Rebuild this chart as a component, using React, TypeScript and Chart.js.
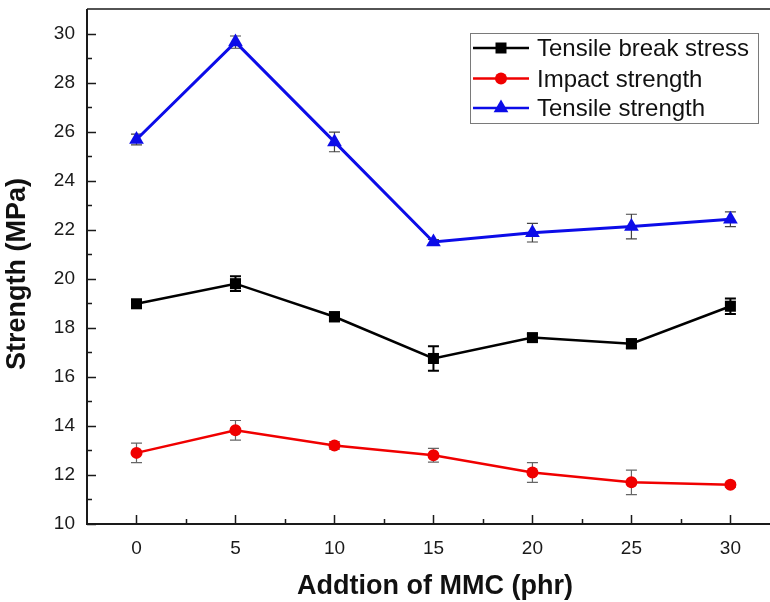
import React, { useEffect, useRef } from 'react';
import { Chart, registerables } from 'chart.js';

Chart.register(...registerables);

// ---- data ----
const additions = [0, 5, 10, 15, 20, 25, 30];

const tensileBreakStress = [18.98, 19.8, 18.45, 16.75, 17.6, 17.35, 18.88];
const tensileBreakStressErr = [0.15, 0.3, 0.18, 0.5, 0.15, 0.18, 0.32];

const impactStrength = [12.9, 13.82, 13.2, 12.8, 12.1, 11.7, 11.6];
const impactStrengthErr = [0.4, 0.4, 0.15, 0.28, 0.4, 0.5, 0.1];

const tensileStrength = [25.68, 29.65, 25.58, 21.5, 21.88, 22.13, 22.43];
const tensileStrengthErr = [0.22, 0.25, 0.4, 0.1, 0.38, 0.5, 0.3];

const seriesNames = ['Tensile break stress', 'Impact strength', 'Tensile strength'];

const xMajorTicks = [0, 5, 10, 15, 20, 25, 30];
const xMinorTicks = [2.5, 7.5, 12.5, 17.5, 22.5, 27.5];
const yMajorTicks = [10, 12, 14, 16, 18, 20, 22, 24, 26, 28, 30];
const yMinorTicks = [11, 13, 15, 17, 19, 21, 23, 25, 27, 29];

const xTitle = 'Addtion of MMC (phr)';
const yTitle = 'Strength (MPa)';

const FONT = '"Liberation Sans", Arial, Helvetica, sans-serif';
const BLACK = '#000000';
const RED = '#f00000';
const BLUE = '#0c0ce8';

const errors = [tensileBreakStressErr, impactStrengthErr, tensileStrengthErr];
const errColors = ['#000000', '#666666', '#444444'];
const errWidths = [2, 1.2, 1.2];

const toPoints = (ys: number[]) => additions.map((x, i) => ({ x, y: ys[i] }));

function drawMarker(ctx: CanvasRenderingContext2D, style: string, x: number, y: number, color: string) {
  ctx.fillStyle = color;
  ctx.beginPath();
  if (style === 'rect') {
    ctx.rect(x - 5.5, y - 5.5, 11, 11);
  } else if (style === 'circle') {
    ctx.arc(x, y, 6, 0, Math.PI * 2);
  } else {
    const r = 8.5;
    ctx.moveTo(x, y - r);
    ctx.lineTo(x + r * 0.866, y + r * 0.5);
    ctx.lineTo(x - r * 0.866, y + r * 0.5);
    ctx.closePath();
  }
  ctx.fill();
}

const decorPlugin = {
  id: 'decor',
  beforeDatasetsDraw(chart: any) {
    const { ctx, scales } = chart;
    const x = scales.x;
    const y = scales.y;
    ctx.save();
    chart.data.datasets.forEach((ds: any, di: number) => {
      const err = errors[di];
      ctx.strokeStyle = errColors[di];
      ctx.lineWidth = errWidths[di];
      ds.data.forEach((p: any, i: number) => {
        const px = x.getPixelForValue(p.x);
        const top = y.getPixelForValue(p.y + err[i]);
        const bot = y.getPixelForValue(p.y - err[i]);
        ctx.beginPath();
        ctx.moveTo(px, top);
        ctx.lineTo(px, bot);
        ctx.moveTo(px - 5.5, top);
        ctx.lineTo(px + 5.5, top);
        ctx.moveTo(px - 5.5, bot);
        ctx.lineTo(px + 5.5, bot);
        ctx.stroke();
      });
    });
    ctx.restore();
  },
  afterDraw(chart: any) {
    const { ctx, chartArea: a, scales } = chart;
    const x = scales.x;
    const y = scales.y;
    ctx.save();
    // frame (top line; right edge falls outside the picture)
    ctx.strokeStyle = '#1a1a1a';
    ctx.lineWidth = 1.5;
    ctx.beginPath();
    ctx.moveTo(a.left, a.top);
    ctx.lineTo(a.right + 2, a.top);
    ctx.stroke();
    ctx.lineWidth = 2;
    ctx.beginPath();
    ctx.moveTo(a.left, a.top);
    ctx.lineTo(a.left, a.bottom);
    ctx.lineTo(a.right + 2, a.bottom);
    ctx.stroke();
    // ticks (inward)
    ctx.lineWidth = 1.5;
    ctx.beginPath();
    xMajorTicks.forEach((v) => {
      const px = Math.round(x.getPixelForValue(v)) + 0.5;
      ctx.moveTo(px, a.bottom);
      ctx.lineTo(px, a.bottom - 9);
    });
    xMinorTicks.forEach((v) => {
      const px = Math.round(x.getPixelForValue(v)) + 0.5;
      ctx.moveTo(px, a.bottom);
      ctx.lineTo(px, a.bottom - 5);
    });
    yMajorTicks.forEach((v) => {
      const py = Math.round(y.getPixelForValue(v)) + 0.5;
      ctx.moveTo(a.left, py);
      ctx.lineTo(a.left + 9, py);
    });
    yMinorTicks.forEach((v) => {
      const py = Math.round(y.getPixelForValue(v)) + 0.5;
      ctx.moveTo(a.left, py);
      ctx.lineTo(a.left + 5, py);
    });
    ctx.stroke();

    // axis titles
    ctx.fillStyle = '#111';
    ctx.font = `bold 27px ${FONT}`;
    ctx.textAlign = 'center';
    ctx.textBaseline = 'alphabetic';
    ctx.fillText(xTitle, 435, 594);
    ctx.save();
    ctx.translate(25, 274);
    ctx.rotate(-Math.PI / 2);
    ctx.fillText(yTitle, 0, 0);
    ctx.restore();

    // legend
    const bx = 470.5, by = 33.5, bw = 288, bh = 90;
    ctx.fillStyle = '#ffffff';
    ctx.fillRect(bx, by, bw, bh);
    ctx.strokeStyle = '#7a7a7a';
    ctx.lineWidth = 1;
    ctx.strokeRect(bx, by, bw, bh);
    const rows = [48, 78.5, 108];
    ctx.font = `24px ${FONT}`;
    ctx.textAlign = 'left';
    chart.data.datasets.forEach((ds: any, di: number) => {
      const cy = rows[di];
      ctx.strokeStyle = ds.borderColor;
      ctx.lineWidth = 2.5;
      ctx.beginPath();
      ctx.moveTo(473, cy);
      ctx.lineTo(529, cy);
      ctx.stroke();
      drawMarker(ctx, ds.pointStyle, 501, cy, ds.borderColor);
      ctx.fillStyle = '#111';
      ctx.fillText(seriesNames[di], 537, cy + 8);
    });
    ctx.restore();
  },
};

export default function App() {
  const ref = useRef<HTMLCanvasElement | null>(null);

  useEffect(() => {
    if (!ref.current) return;
    const chart = new Chart(ref.current, {
      type: 'scatter',
      data: {
        datasets: [
          {
            label: seriesNames[0],
            data: toPoints(tensileBreakStress),
            showLine: true,
            borderColor: BLACK,
            backgroundColor: BLACK,
            borderWidth: 2.5,
            pointStyle: 'rect',
            pointRadius: 7.8,
            pointBorderWidth: 0,
            clip: false as any,
          },
          {
            label: seriesNames[1],
            data: toPoints(impactStrength),
            showLine: true,
            borderColor: RED,
            backgroundColor: RED,
            borderWidth: 2.5,
            pointStyle: 'circle',
            pointRadius: 6,
            pointBorderWidth: 0,
            clip: false as any,
          },
          {
            label: seriesNames[2],
            data: toPoints(tensileStrength),
            showLine: true,
            borderColor: BLUE,
            backgroundColor: BLUE,
            borderWidth: 3,
            pointStyle: 'triangle',
            pointRadius: 8.5,
            pointBorderWidth: 0,
            clip: false as any,
          },
        ],
      },
      options: {
        responsive: false,
        animation: false,
        layout: { autoPadding: false, padding: { top: 9, left: 0, right: 0, bottom: 0 } },
        plugins: {
          legend: { display: false },
          title: { display: false },
          tooltip: { enabled: false },
        },
        scales: {
          x: {
            type: 'linear',
            min: -2.5,
            max: 32,
            grid: { display: false, drawTicks: false },
            border: { display: false },
            afterBuildTicks: (s: any) => {
              s.ticks = xMajorTicks.map((v) => ({ value: v }));
            },
            afterFit: (s: any) => {
              s.height = 78;
              s.paddingLeft = 0;
              s.paddingRight = 0;
            },
            ticks: {
              padding: 13,
              color: '#1a1a1a',
              font: { family: FONT, size: 19 },
              maxRotation: 0,
            },
          },
          y: {
            type: 'linear',
            min: 10,
            max: 31,
            grid: { display: false, drawTicks: false },
            border: { display: false },
            afterBuildTicks: (s: any) => {
              s.ticks = yMajorTicks.map((v) => ({ value: v }));
            },
            afterFit: (s: any) => {
              s.width = 87;
              s.paddingTop = 0;
              s.paddingBottom = 0;
            },
            ticks: {
              padding: 12,
              color: '#1a1a1a',
              font: { family: FONT, size: 19 },
            },
          },
        },
      },
      plugins: [decorPlugin],
    });
    return () => chart.destroy();
  }, []);

  return (
    <div style={{ position: 'absolute', left: 0, top: 0, width: 770, height: 602, background: '#fff' }}>
      <canvas ref={ref} width={770} height={602} style={{ display: 'block' }} />
    </div>
  );
}
